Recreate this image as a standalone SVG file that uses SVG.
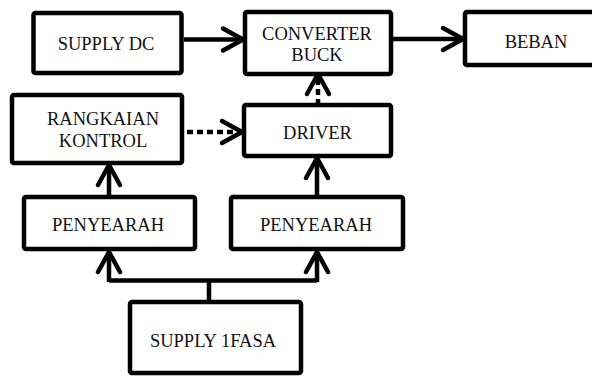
<svg xmlns="http://www.w3.org/2000/svg" width="592" height="378" viewBox="0 0 592 378">
<style>
.box{fill:#fff;stroke:#000;stroke-width:4.5;stroke-linejoin:round}
.t{font-family:"Liberation Serif","Times New Roman",serif;font-size:18.5px;fill:#111;text-anchor:middle}
.ln{fill:none;stroke:#000;stroke-width:4.5;stroke-linejoin:round}
.dot{fill:none;stroke:#000;stroke-width:4.5;stroke-dasharray:6 4}
</style>
<defs>
<marker id="chev" markerUnits="userSpaceOnUse" markerWidth="30" markerHeight="30" viewBox="0 0 30 30" refX="24" refY="13" orient="auto" overflow="visible">
<path d="M4,2 L24,13 L4,24" fill="none" stroke="#000" stroke-width="4.5" stroke-linecap="round" stroke-linejoin="round"/>
</marker>
</defs>
<g id="connectors">
<line class="ln" x1="184" y1="39.5" x2="243" y2="39.5" marker-end="url(#chev)"/>
<line class="ln" x1="393" y1="39" x2="463" y2="39" marker-end="url(#chev)"/>
<line class="dot" x1="187" y1="132" x2="242" y2="132" marker-end="url(#chev)"/>
<line class="dot" x1="318" y1="105" x2="318" y2="74" marker-end="url(#chev)"/>
<line class="ln" x1="109" y1="195" x2="109" y2="165" marker-end="url(#chev)"/>
<line class="ln" x1="317" y1="195" x2="317" y2="158" marker-end="url(#chev)"/>
<path class="ln" d="M109,280.5 H317"/>
<line class="ln" x1="109" y1="282" x2="109" y2="252" marker-end="url(#chev)"/>
<line class="ln" x1="317" y1="282" x2="317" y2="252" marker-end="url(#chev)"/>
<line class="ln" x1="209" y1="280" x2="209" y2="300"/>
</g>
<g id="supply-dc"><rect class="box" x="33.5" y="13" width="148" height="60" rx="2"/><text class="t" x="106" y="50">SUPPLY DC</text></g>
<g id="converter-buck"><rect class="box" x="245" y="12" width="146" height="62" rx="2"/><text class="t" x="317" y="40">CONVERTER</text><text class="t" x="317" y="61">BUCK</text></g>
<g id="beban"><rect class="box" x="465" y="12" width="145" height="53" rx="2"/><text class="t" x="536" y="48">BEBAN</text></g>
<g id="rangkaian-kontrol"><rect class="box" x="12" y="95" width="170" height="68" rx="2"/><text class="t" x="103" y="125">RANGKAIAN</text><text class="t" x="103" y="147">KONTROL</text></g>
<g id="driver"><rect class="box" x="244" y="105" width="147" height="51" rx="2"/><text class="t" x="317.5" y="139">DRIVER</text></g>
<g id="penyearah-1"><rect class="box" x="24" y="197" width="171" height="52" rx="2"/><text class="t" x="108" y="230.5">PENYEARAH</text></g>
<g id="penyearah-2"><rect class="box" x="231" y="197" width="172" height="52" rx="2"/><text class="t" x="316" y="230.5">PENYEARAH</text></g>
<g id="supply-1fasa"><rect class="box" x="130" y="302" width="171" height="71" rx="2"/><text class="t" x="213" y="347">SUPPLY 1FASA</text></g>
</svg>
